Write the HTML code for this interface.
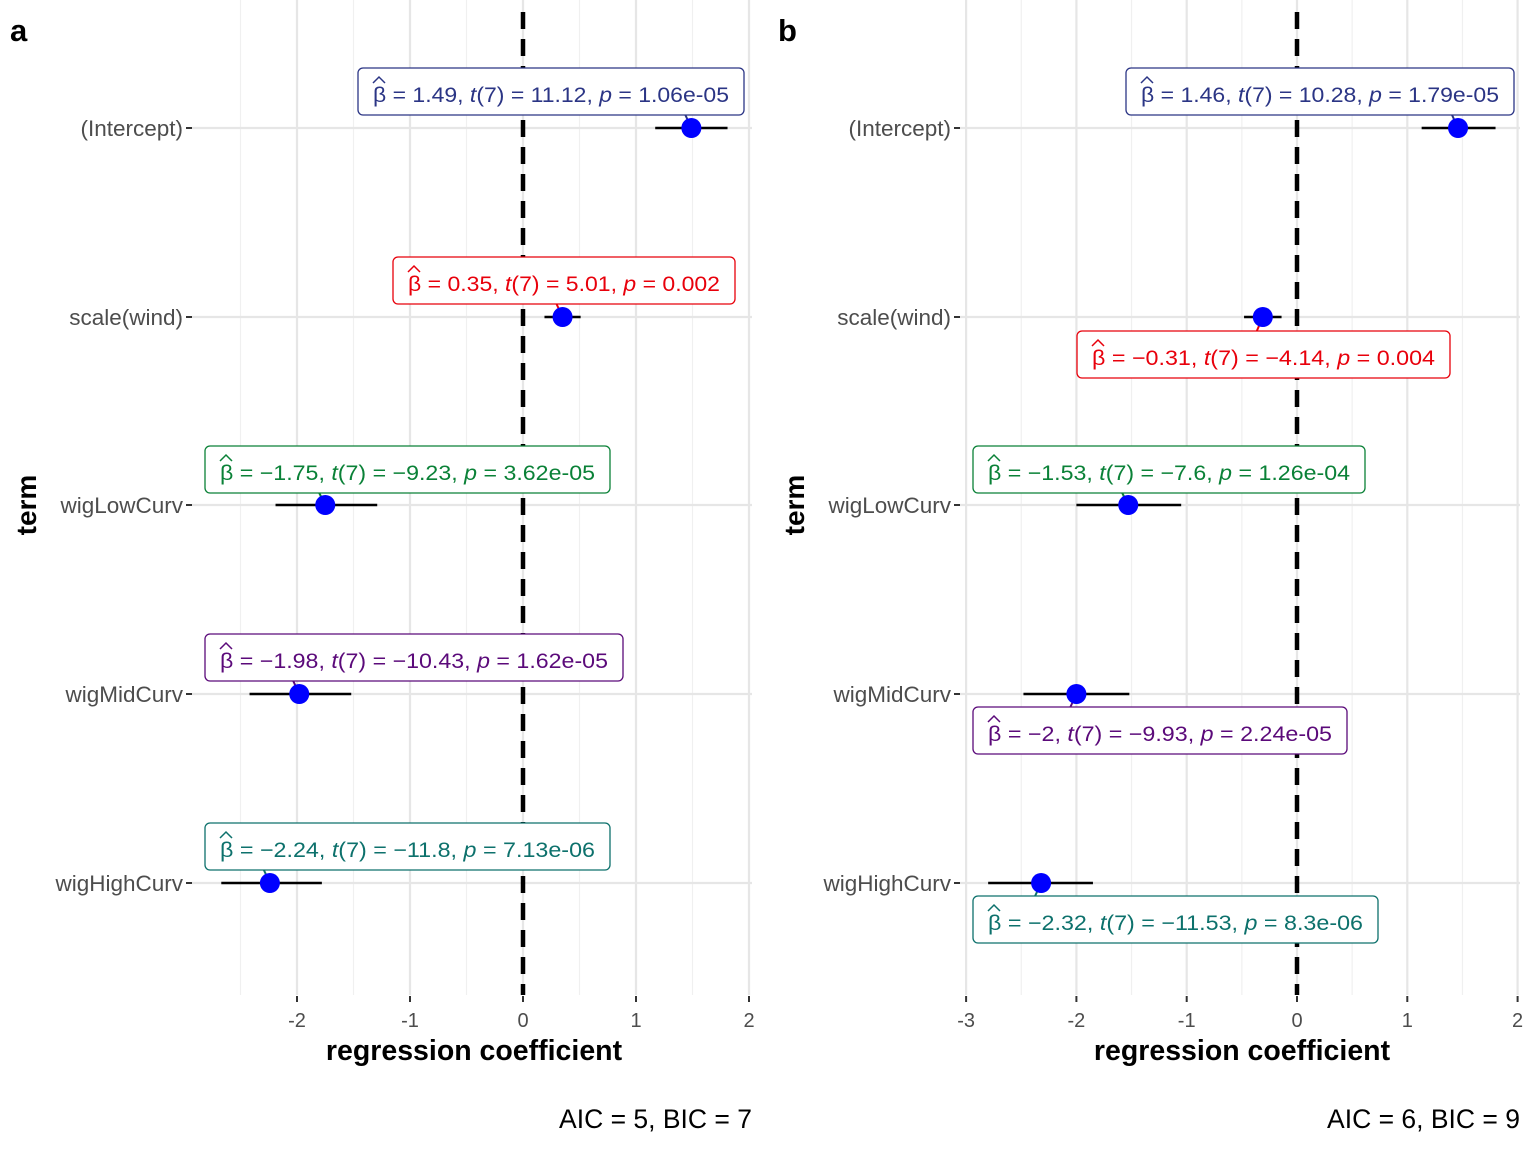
<!DOCTYPE html>
<html><head><meta charset="utf-8"><style>
html,body{margin:0;padding:0;background:#fff;}
svg{display:block;font-family:"Liberation Sans",sans-serif;}
</style></head><body>
<svg id="c" width="1536" height="1152" viewBox="0 0 1536 1152"></svg>
<script>
const terms = ["(Intercept)","scale(wind)","wigLowCurv","wigMidCurv","wigHighCurv"];
const estA = [1.49, 0.35, -1.75, -1.98, -2.24];
const loA = [1.17, 0.19, -2.19, -2.42, -2.67];
const hiA = [1.81, 0.51, -1.29, -1.52, -1.78];
const estB = [1.46, -0.31, -1.53, -2.0, -2.32];
const loB = [1.13, -0.48, -2.0, -2.48, -2.80];
const hiB = [1.80, -0.14, -1.05, -1.52, -1.85];
const labA = [["1.49","11.12","1.06e-05"],["0.35","5.01","0.002"],["\u22121.75","\u22129.23","3.62e-05"],["\u22121.98","\u221210.43","1.62e-05"],["\u22122.24","\u221211.8","7.13e-06"]];
const labB = [["1.46","10.28","1.79e-05"],["\u22120.31","\u22124.14","0.004"],["\u22121.53","\u22127.6","1.26e-04"],["\u22122","\u22129.93","2.24e-05"],["\u22122.32","\u221211.53","8.3e-06"]];
const ticksA = [-2,-1,0,1,2];
const ticksB = [-3,-2,-1,0,1,2];
const colors = ["#2b3585","#e8000b","#0a8137","#5b0a7a","#0d716c"];
const NS="http://www.w3.org/2000/svg";
const svg=document.getElementById('c');
function mk(t,a,p){const e=document.createElementNS(NS,t);for(const k in a)e.setAttribute(k,a[k]);(p||svg).appendChild(e);return e;}
const rowY=[128,317,505,694,883];
function panel(cfg){
  const g=mk('g',{});
  
  
  const X=v=>cfg.x0+(v-0)*cfg.k;
  for(let v=cfg.min-0.5;v<=cfg.max+0.5;v+=1){const x=X(v);if(x<cfg.l||x>cfg.r)continue;mk('line',{x1:x,x2:x,y1:0,y2:995,stroke:'#f0f0f0','stroke-width':1.2},g);}
  cfg.ticks.forEach(v=>{mk('line',{x1:X(v),x2:X(v),y1:0,y2:995,stroke:'#e6e6e6','stroke-width':2.2},g);
    const t=mk('text',{x:X(v),y:1027,'text-anchor':'middle','font-size':20,fill:'#4d4d4d'},g);t.textContent=String(v);
    
    mk('line',{x1:X(v),x2:X(v),y1:996,y2:1002,stroke:'#333','stroke-width':2},g);});
  rowY.forEach((y,i)=>{mk('line',{x1:cfg.l,x2:cfg.r,y1:y,y2:y,stroke:'#e6e6e6','stroke-width':2.2},g);
    mk('line',{x1:cfg.l-6,x2:cfg.l,y1:y,y2:y,stroke:'#333','stroke-width':2},g);
    const t=mk('text',{x:cfg.l-9,y:y+8,'text-anchor':'end','font-size':22.5,fill:'#4d4d4d'},g);t.textContent=terms[i];
    });
  mk('line',{x1:X(0),x2:X(0),y1:12,y2:995,stroke:'#000','stroke-width':4.5,'stroke-dasharray':'17 10'},g);
  rowY.forEach((y,i)=>{
    const ci=mk('line',{x1:X(cfg.lo[i]),x2:X(cfg.hi[i]),y1:y,y2:y,stroke:'#000','stroke-width':2.5},g);
    
    const b=cfg.boxes[i];
    const by=b[1]+b[2]/2, cy=by<y?b[1]+b[2]:b[1];
    mk('line',{x1:X(cfg.est[i]),x2:X(cfg.est[i])-6,y1:y,y2:cy,stroke:colors[i],'stroke-width':2},g);
    const p=mk('circle',{cx:X(cfg.est[i]),cy:y,r:10,fill:'#0000ff'},g);
    
  });
  rowY.forEach((y,i)=>{
    const b=cfg.boxes[i];const c=colors[i];const L=cfg.lab[i];
    const bx=mk('g',{},g);
    
    mk('rect',{x:b[0],y:b[1],width:b[3],height:b[2],rx:5,fill:'#fff',stroke:c,'stroke-width':1.3},bx);
    const base=b[1]+34;
    mk('path',{d:`M${b[0]+15} ${base-19} L${b[0]+21} ${base-25} L${b[0]+27} ${base-19}`,fill:'none',stroke:c,'stroke-width':1.5},bx);
    const t=mk('text',{x:b[0]+15,y:base,'font-size':21,fill:c,textLength:b[3]-30,lengthAdjust:'spacingAndGlyphs'},bx);
    t.innerHTML='β = '+L[0]+',  <tspan font-style="italic">t</tspan>(7) = '+L[1]+',  <tspan font-style="italic">p</tspan> = '+L[2];
  });
  const xt=mk('text',{x:(cfg.l+cfg.r)/2+2,y:1060,'text-anchor':'middle','font-size':28.5,'font-weight':'bold',fill:'#000'},g);
  xt.textContent='regression coefficient';
  const yt=mk('text',{x:cfg.l-156,y:505,'text-anchor':'middle','font-size':28,'font-weight':'bold',fill:'#000',transform:`rotate(-90 ${cfg.l-156} 505)`},g);
  yt.textContent='term';
  const cap=mk('text',{x:cfg.r,y:1128,'text-anchor':'end','font-size':26.5,fill:'#000'},g);
  cap.textContent=cfg.cap;
  const pl=mk('text',{x:cfg.l-182,y:41,'font-size':31,'font-weight':'bold',fill:'#000'},g);
  pl.textContent=cfg.letter;
}
panel({name:'panel-a',x0:523,k:113,l:192,r:752,min:-3,max:2,ticks:ticksA,est:estA,lo:loA,hi:hiA,lab:labA,cap:'AIC = 5, BIC = 7',letter:'a',
  boxes:[[358,68,47,386],[393,257,47,342],[205,446,47,405],[205,634,47,418],[205,823,47,405]]});
panel({name:'panel-b',x0:1297,k:110.3,l:960,r:1520,min:-3,max:2,ticks:ticksB,est:estB,lo:loB,hi:hiB,lab:labB,cap:'AIC = 6, BIC = 9',letter:'b',
  boxes:[[1126,68,47,388],[1077,331,47,373],[973,446,47,392],[973,707,47,374],[973,896,47,405]]});
</script>
</body></html>
